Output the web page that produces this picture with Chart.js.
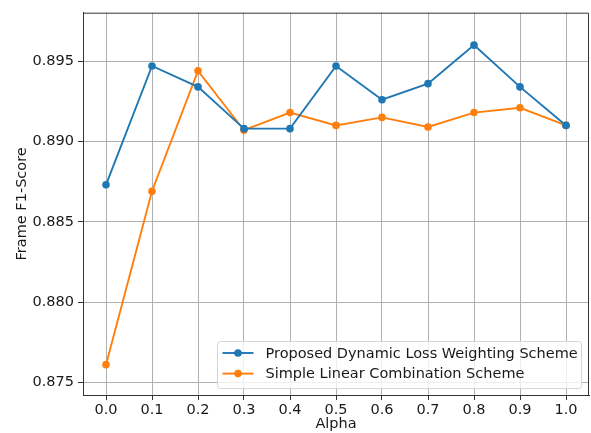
<!DOCTYPE html>
<html>
<head>
<meta charset="utf-8">
<script src="https://cdn.jsdelivr.net/npm/chart.js@4.4.0/dist/chart.umd.min.js"></script>
<style>
  html, body { margin: 0; padding: 0; background: #fff; }
  canvas { display: block; }
</style>
</head>
<body>
<canvas id="myChart" width="591" height="433"></canvas>
<script>
// values
const alphas = [0.0, 0.1, 0.2, 0.3, 0.4, 0.5, 0.6, 0.7, 0.8, 0.9, 1.0];
const dynamicScores = [0.8873, 0.8947, 0.8934, 0.8908, 0.8908, 0.8947, 0.8926, 0.8936, 0.8960, 0.8934, 0.8910];
const linearScores = [0.8761, 0.8869, 0.8944, 0.8907, 0.8918, 0.8910, 0.8915, 0.8909, 0.8918, 0.8921, 0.8910];
const xTicks = [0.0, 0.1, 0.2, 0.3, 0.4, 0.5, 0.6, 0.7, 0.8, 0.9, 1.0];
const yTicks = [0.875, 0.880, 0.885, 0.890, 0.895];
const seriesNames = ['Proposed Dynamic Loss Weighting Scheme', 'Simple Linear Combination Scheme'];

const FONT = 'DejaVu Sans';
const FS = 14.5;
const blue = '#1f77b4';
const orange = '#ff7f0e';

// top + right spines
const frame = {
  id: 'frame',
  afterDatasetsDraw(chart) {
    const {ctx, chartArea: a} = chart;
    ctx.save();
    ctx.strokeStyle = '#333';
    ctx.lineWidth = 1;
    ctx.beginPath();
    ctx.moveTo(a.left, a.top + 0.5);
    ctx.lineTo(a.right - 0.5, a.top + 0.5);
    ctx.lineTo(a.right - 0.5, a.bottom);
    ctx.stroke();
    ctx.restore();
  }
};

// matplotlib-style legend in the lower right of the axes
const boxLegend = {
  id: 'boxLegend',
  afterDraw(chart) {
    const {ctx, chartArea: a} = chart;
    const w = 364, h = 47;
    const x = a.right - 7.5 - w, y = a.bottom - 6.5 - h;
    ctx.save();
    ctx.beginPath();
    ctx.roundRect(x, y, w, h, 3);
    ctx.fillStyle = 'rgba(255,255,255,0.8)';
    ctx.fill();
    ctx.strokeStyle = '#d5d5d5';
    ctx.lineWidth = 1;
    ctx.stroke();
    ctx.font = FS + 'px "' + FONT + '"';
    ctx.textBaseline = 'middle';
    chart.data.datasets.forEach((ds, i) => {
      const ry = y + 11.5 + i * 20.6;
      ctx.strokeStyle = ds.borderColor;
      ctx.lineWidth = 1.9;
      ctx.beginPath();
      ctx.moveTo(x + 5, ry);
      ctx.lineTo(x + 36, ry);
      ctx.stroke();
      ctx.fillStyle = ds.borderColor;
      ctx.beginPath();
      ctx.arc(x + 20.5, ry, 3.8, 0, Math.PI * 2);
      ctx.fill();
      ctx.fillStyle = '#1a1a1a';
      ctx.fillText(ds.label, x + 48, ry + 1);
    });
    ctx.restore();
  }
};

const ctx = document.getElementById('myChart');

new Chart(ctx, {
  type: 'line',
  data: {
    datasets: [
      {
        label: seriesNames[0],
        data: alphas.map((a, i) => ({x: a, y: dynamicScores[i]})),
        borderColor: blue,
        backgroundColor: blue,
        borderWidth: 1.9,
        pointRadius: 3.8,
        pointBorderWidth: 0,
        pointBackgroundColor: blue,
        tension: 0
      },
      {
        label: seriesNames[1],
        data: alphas.map((a, i) => ({x: a, y: linearScores[i]})),
        borderColor: orange,
        backgroundColor: orange,
        borderWidth: 1.9,
        pointRadius: 3.8,
        pointBorderWidth: 0,
        pointBackgroundColor: orange,
        tension: 0
      }
    ]
  },
  options: {
    responsive: false,
    animation: false,
    layout: { autoPadding: false, padding: { top: 11, right: 2, left: 0, bottom: 0 } },
    plugins: {
      legend: { display: false },
      tooltip: { enabled: false }
    },
    scales: {
      x: {
        type: 'linear',
        min: -0.05,
        max: 1.05,
        afterBuildTicks: s => { s.ticks = xTicks.map(v => ({value: v})); },
        afterFit: s => { s.height = 38; s.paddingLeft = 0; s.paddingRight = 0; },
        grid: { color: '#b0b0b0', lineWidth: 1, tickLength: 5, tickColor: '#333' },
        border: { color: '#333', width: 1 },
        ticks: {
          color: '#1a1a1a',
          font: { family: FONT, size: FS },
          padding: 2,
          maxRotation: 0,
          autoSkip: false,
          callback: v => v.toFixed(1)
        },
        title: {
          display: true,
          text: 'Alpha',
          color: '#1a1a1a',
          font: { family: FONT, size: FS },
          padding: { top: 0, bottom: 0 }
        }
      },
      y: {
        type: 'linear',
        min: 0.87421,
        max: 0.89802,
        afterBuildTicks: s => { s.ticks = yTicks.map(v => ({value: v})); },
        afterFit: s => { s.width = 83; },
        grid: { color: '#b0b0b0', lineWidth: 1, tickLength: 5, tickColor: '#333' },
        border: { color: '#333', width: 1 },
        ticks: {
          color: '#1a1a1a',
          font: { family: FONT, size: FS },
          padding: 4,
          autoSkip: false,
          callback: v => v.toFixed(3)
        },
        title: {
          display: true,
          text: 'Frame F1-Score',
          color: '#1a1a1a',
          font: { family: FONT, size: FS },
          padding: { top: 14, bottom: 0 }
        }
      }
    }
  },
  plugins: [frame, boxLegend]
});
</script>
</body>
</html>
